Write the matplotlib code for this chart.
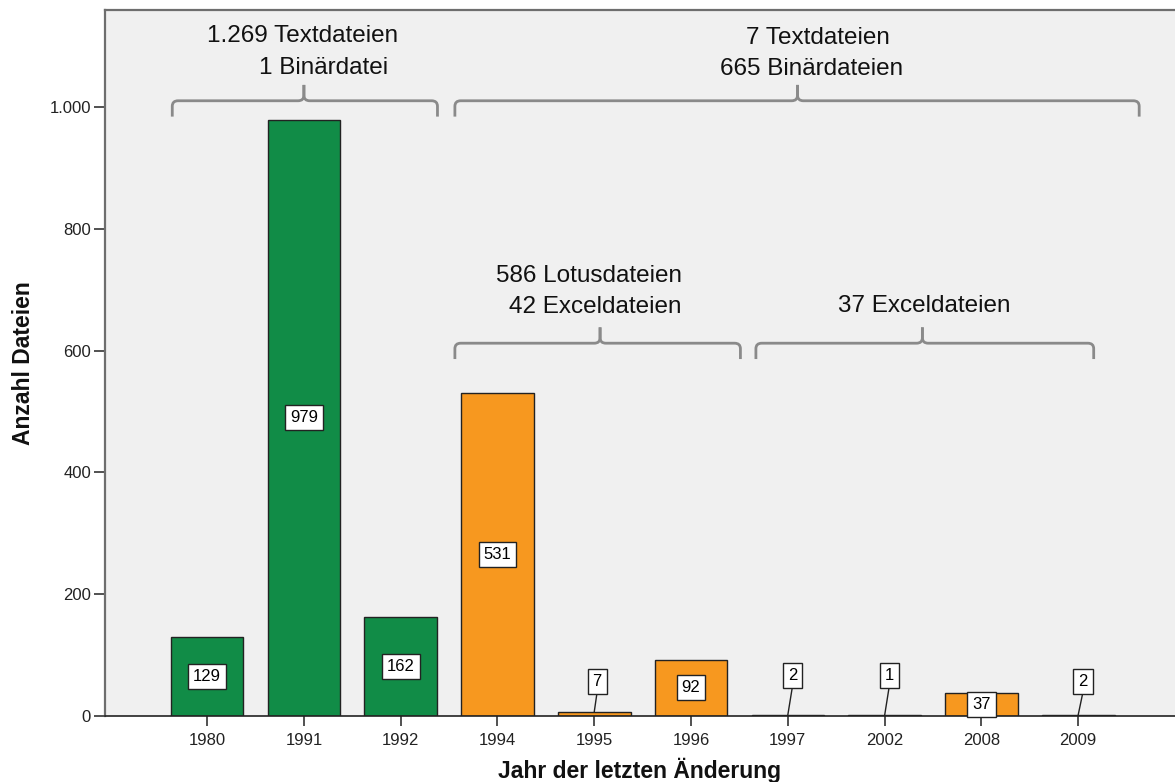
import matplotlib
matplotlib.use("Agg")
import matplotlib.pyplot as plt
from matplotlib.path import Path
from matplotlib.patches import PathPatch
from matplotlib.ticker import FuncFormatter

# ---- data ----
years = ['1980', '1991', '1992', '1994', '1995', '1996', '1997', '2002', '2008', '2009']
counts = [129, 979, 162, 531, 7, 92, 2, 1, 37, 2]
file_group = ['text', 'text', 'text', 'lotus', 'lotus', 'lotus', 'lotus', 'lotus', 'lotus', 'lotus']

# bracket annotations: (left, right, tip) in category units, bracket level
brace_left = [-0.36, 2.56, 2.56, 5.67]
brace_right = [2.38, 9.63, 5.51, 9.16]
brace_tip = [1.0, 6.1, 4.06, 7.39]
brace_level = [1010, 1010, 612, 612]

# annotation text lines: text, x center (category units), baseline (data units)
note_text = ['1.269 Textdateien', '1 Binärdatei', '7 Textdateien', '665 Binärdateien',
             '586 Lotusdateien', '42 Exceldateien', '37 Exceldateien']
note_x = [0.99, 1.20, 6.31, 6.25, 3.95, 4.01, 7.41]
note_y = [1107, 1054, 1104, 1053, 713, 661, 664]

# labels for small bars placed above with leader line
leader_idx = [4, 6, 7, 9]
leader_y = [56, 67, 67, 56]
leader_dx = [0.03, 0.05, 0.05, 0.05]

colors = {'text': '#118C47', 'lotus': '#F7981F'}

fig = plt.figure(figsize=(11.75, 7.82), dpi=100)
ax = fig.add_axes([105 / 1175, 66 / 782, 1 - 105 / 1175, (716 - 10) / 782])
ax.set_facecolor('#F0F0F0')

x = list(range(len(years)))
bar_colors = [colors[g] for g in file_group]
ax.bar(x, counts, width=0.75, color=bar_colors, edgecolor='#222222', linewidth=1.0, zorder=2)

ax.set_xlim(-1.055, 10.0)
ax.set_ylim(0, 1159)
ax.set_xticks(x)
ax.set_xticklabels(years, fontsize=12, family='Liberation Sans')
ax.set_yticks([0, 200, 400, 600, 800, 1000])
ax.yaxis.set_major_formatter(FuncFormatter(lambda v, p: f"{int(v):,}".replace(',', '.')))
for lab in ax.get_yticklabels():
    lab.set_fontsize(12)
    lab.set_family('Liberation Sans')
ax.tick_params(axis='x', direction='out', length=7, width=1.2, color='#333333',
               labelcolor='#222222', pad=5)
ax.tick_params(axis='y', direction='out', length=8, width=1.2, color='#333333',
               labelcolor='#222222', pad=2)

for side in ['top', 'left']:
    ax.spines[side].set_color('#6E6E6E')
    ax.spines[side].set_linewidth(1.6)
ax.spines['right'].set_visible(False)
ax.spines['bottom'].set_color('#222222')
ax.spines['bottom'].set_linewidth(1.2)

fig.text(640 / 1175, 4 / 782, 'Jahr der letzten Änderung', ha='center', va='baseline',
         fontsize=16.5, fontweight='bold', family='Liberation Sans', color='#111111')
fig.text(24 / 1175, (782 - 363) / 782, 'Anzahl Dateien', ha='center', va='center',
         rotation=90, fontsize=16.5, fontweight='bold', family='Liberation Sans', color='#111111')

box = dict(boxstyle='square,pad=0.3', facecolor='white', edgecolor='#222222', linewidth=1.0)

# value labels
for i, v in enumerate(counts):
    if i in leader_idx:
        k = leader_idx.index(i)
        ly = leader_y[k]
        lx = i + leader_dx[k]
        ax.plot([i, lx], [v, ly - 16], color='#222222', linewidth=1.0, zorder=3)
        ax.text(lx, ly, str(v), ha='center', va='center', fontsize=12,
                family='Liberation Sans', bbox=box, zorder=4)
    else:
        ax.text(i, v / 2, str(v), ha='center', va='center', fontsize=12,
                family='Liberation Sans', bbox=box, zorder=4)


def brace(ax, x0, x1, xm, y, d=26, rx=0.06, ry=9):
    verts_l = [(x0, y - d), (x0, y - ry), (x0, y), (x0 + rx, y), (xm - rx, y),
               (xm, y), (xm, y + ry), (xm, y + d)]
    codes = [Path.MOVETO, Path.LINETO, Path.CURVE3, Path.CURVE3, Path.LINETO,
             Path.CURVE3, Path.CURVE3, Path.LINETO]
    verts_r = [(x1, y - d), (x1, y - ry), (x1, y), (x1 - rx, y), (xm + rx, y),
               (xm, y), (xm, y + ry), (xm, y + d)]
    for verts in (verts_l, verts_r):
        ax.add_patch(PathPatch(Path(verts, codes), facecolor='none',
                               edgecolor='#8A8A8A', linewidth=2.0, zorder=3,
                               capstyle='butt', joinstyle='round'))


for x0, x1, xm, lvl in zip(brace_left, brace_right, brace_tip, brace_level):
    brace(ax, x0, x1, xm, lvl)

for txt, tx, ty in zip(note_text, note_x, note_y):
    ax.text(tx, ty, txt, ha='center', va='baseline', fontsize=17.5,
            family='Liberation Sans', color='#111111')

fig.savefig('out.png', dpi=100)
